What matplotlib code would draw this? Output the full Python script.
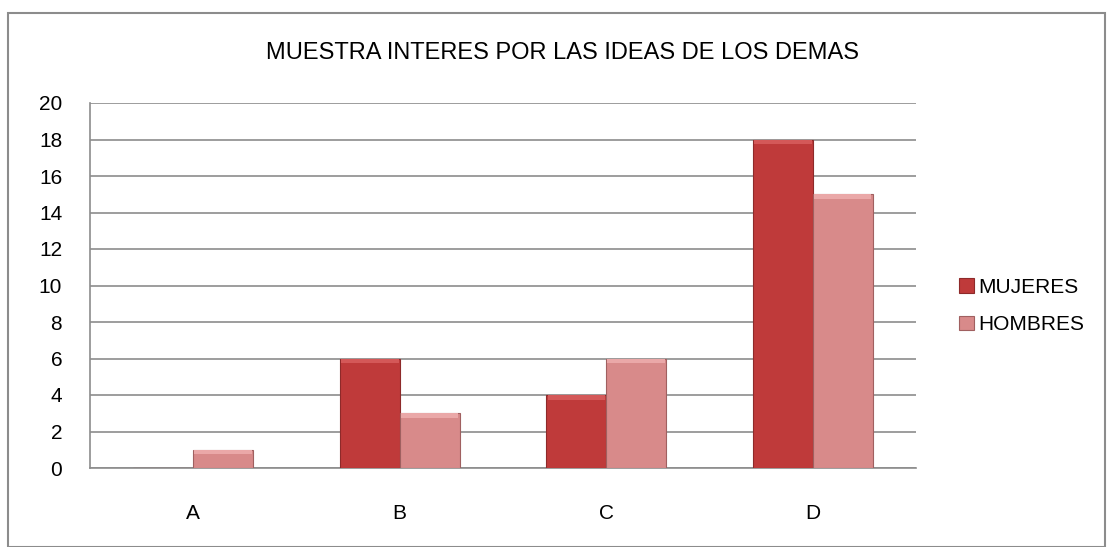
import matplotlib.pyplot as plt
import numpy as np
from matplotlib.patches import Rectangle

categories = ['A', 'B', 'C', 'D']
mujeres = [0, 6, 4, 18]
hombres = [1, 3, 6, 15]
yticks = list(range(0, 21, 2))

plt.rcParams['font.family'] = ['Liberation Sans', 'DejaVu Sans']

fig = plt.figure(figsize=(11.07, 5.47), dpi=100)
ax = fig.add_axes([90 / 1107, 1 - 468 / 547, 826 / 1107, 365 / 547])

x = np.arange(len(categories))
w = 0.29
c_m = '#bf3a3a'
c_h = '#d88a8a'
ax.bar(x - w / 2, mujeres, w, color=c_m, edgecolor='#8e2a2a', linewidth=0.8, zorder=3, label='MUJERES')
ax.bar(x + w / 2, hombres, w, color=c_h, edgecolor='#a06060', linewidth=0.8, zorder=3, label='HOMBRES')
# lighter top edge, a nod to the bevel look
ax.bar(x - w / 2, [0.25 if v > 0 else 0 for v in mujeres], w * 0.96,
       bottom=[v - 0.25 for v in mujeres], color='#d45858', linewidth=0, zorder=4)
ax.bar(x + w / 2, [0.25 if v > 0 else 0 for v in hombres], w * 0.96,
       bottom=[v - 0.25 for v in hombres], color='#eaa8a8', linewidth=0, zorder=4)

ax.set_xlim(-0.5, 3.5)
ax.set_ylim(0, 20)
ax.set_yticks(yticks)
ax.set_xticks(x)
ax.set_xticklabels(categories)
ax.grid(axis='y', color='#8c8c8c', linewidth=1.2, zorder=0)
ax.tick_params(axis='y', length=0, labelsize=15, pad=20)
ax.tick_params(axis='x', length=0, labelsize=15, pad=26)
for s in ['top', 'right']:
    ax.spines[s].set_visible(False)
ax.spines['left'].set_color('#8c8c8c')
ax.spines['bottom'].set_color('#8c8c8c')
ax.spines['left'].set_linewidth(1.2)
ax.spines['bottom'].set_linewidth(1.2)

fig.text(562 / 1107, 1 - 53 / 547, 'MUESTRA INTERES POR LAS IDEAS DE LOS DEMAS',
         ha='center', va='center', fontsize=17)

fig.legend(loc='center left', bbox_to_anchor=(959 / 1107, 1 - 306 / 547),
           frameon=False, fontsize=15, handlelength=0.7, handleheight=0.7,
           handletextpad=0.2, labelspacing=0.9, borderaxespad=0, borderpad=0)

fig.patches.append(Rectangle((8 / 1107, 0), 1097 / 1107, 1 - 13 / 547,
                             transform=fig.transFigure, fill=False,
                             edgecolor='#8c8c8c', linewidth=1.5))

fig.savefig('out.png', dpi=100)
